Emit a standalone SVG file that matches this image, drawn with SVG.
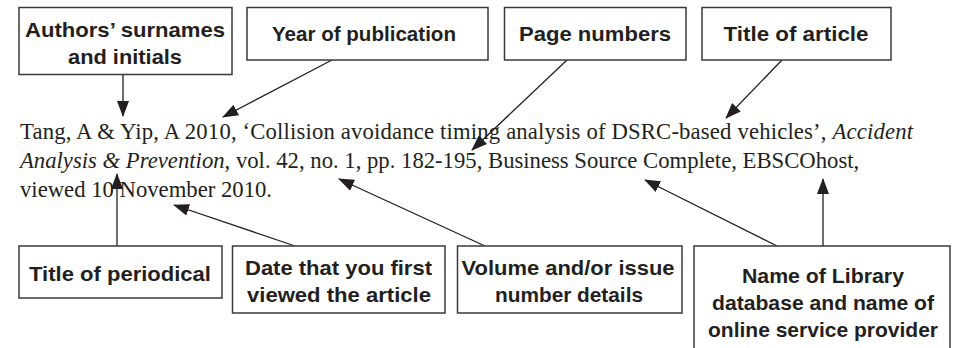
<svg xmlns="http://www.w3.org/2000/svg" width="958" height="348" viewBox="0 0 958 348">
<defs>
<marker id="ah" markerWidth="16" markerHeight="12" refX="15" refY="6" orient="auto" markerUnits="userSpaceOnUse">
<path d="M0,0 L16,6 L0,12 z" fill="#231f20"/>
</marker>
<style>
.box{fill:#fff;stroke:#3a3a3a;stroke-width:1.5}
.lbl{font-family:"Liberation Sans",Arial,sans-serif;font-weight:bold;font-size:21px;fill:#231f20;text-anchor:middle}
.ref{font-family:"Liberation Serif","Times New Roman",serif;font-size:22.7px;fill:#231f20}
.it{font-style:italic}
.con{stroke:#231f20;stroke-width:1.3;fill:none;marker-end:url(#ah)}
</style>
</defs>
<rect width="958" height="348" fill="#fff"/>

<g id="connectors">
<line class="con" x1="123" y1="75" x2="123" y2="116"/>
<line class="con" x1="332" y1="60" x2="223" y2="117"/>
<line class="con" x1="567" y1="60" x2="472" y2="150"/>
<line class="con" x1="782" y1="60" x2="726" y2="118"/>
<line class="con" x1="117" y1="246" x2="117" y2="174"/>
<line class="con" x1="295" y1="246" x2="174" y2="205"/>
<line class="con" x1="485" y1="246" x2="339" y2="179"/>
<line class="con" x1="777" y1="246" x2="645" y2="180"/>
<line class="con" x1="823" y1="246" x2="823" y2="179"/>
</g>

<g id="reference">
<text class="ref" x="20" y="139" textLength="893" lengthAdjust="spacing">Tang, A &amp; Yip, A 2010, ‘Collision avoidance timing analysis of DSRC-based vehicles’, <tspan class="it">Accident</tspan></text>
<text class="ref" x="20" y="168"><tspan class="it">Analysis &amp; Prevention</tspan>, vol. 42, no. 1, pp. 182-195, Business Source Complete, EBSCOhost,</text>
<text class="ref" x="20" y="197">viewed 10 November 2010.</text>
</g>

<g id="authors">
<rect class="box" x="19" y="7.5" width="213" height="67"/>
<text class="lbl" x="125" y="37" textLength="200" lengthAdjust="spacingAndGlyphs">Authors’ surnames</text>
<text class="lbl" x="125" y="64" textLength="114" lengthAdjust="spacingAndGlyphs">and initials</text>
</g>

<g id="year">
<rect class="box" x="247" y="7.5" width="241" height="52.5"/>
<text class="lbl" x="364" y="41" textLength="184" lengthAdjust="spacingAndGlyphs">Year of publication</text>
</g>

<g id="pages">
<rect class="box" x="504.5" y="7.5" width="181.5" height="52.5"/>
<text class="lbl" x="595" y="41" textLength="152" lengthAdjust="spacingAndGlyphs">Page numbers</text>
</g>

<g id="article-title">
<rect class="box" x="702" y="7.5" width="189" height="52.5"/>
<text class="lbl" x="796" y="41" textLength="145" lengthAdjust="spacingAndGlyphs">Title of article</text>
</g>

<g id="periodical">
<rect class="box" x="19" y="246" width="203" height="52"/>
<text class="lbl" x="120" y="281" textLength="182" lengthAdjust="spacingAndGlyphs">Title of periodical</text>
</g>

<g id="date">
<rect class="box" x="232.5" y="246" width="212.5" height="67"/>
<text class="lbl" x="338.5" y="275" textLength="187" lengthAdjust="spacingAndGlyphs">Date that you first</text>
<text class="lbl" x="339" y="302" textLength="184" lengthAdjust="spacingAndGlyphs">viewed the article</text>
</g>

<g id="volume">
<rect class="box" x="457.5" y="246" width="224.5" height="67"/>
<text class="lbl" x="568" y="275" textLength="213" lengthAdjust="spacingAndGlyphs">Volume and/or issue</text>
<text class="lbl" x="569" y="302" textLength="148" lengthAdjust="spacingAndGlyphs">number details</text>
</g>

<g id="library">
<rect class="box" x="694" y="246" width="256" height="130"/>
<text class="lbl" x="823" y="283" textLength="162" lengthAdjust="spacingAndGlyphs">Name of Library</text>
<text class="lbl" x="823" y="310" textLength="222" lengthAdjust="spacingAndGlyphs">database and name of</text>
<text class="lbl" x="823" y="337" textLength="230" lengthAdjust="spacingAndGlyphs">online service provider</text>
</g>
</svg>
